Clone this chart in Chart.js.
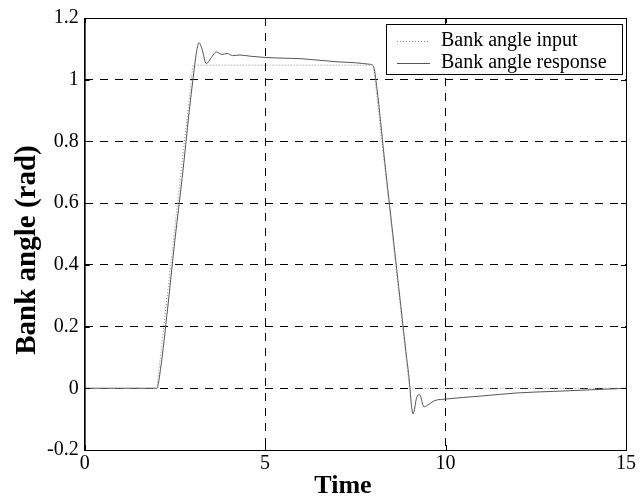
<!DOCTYPE html>
<html>
<head>
<meta charset="utf-8">
<script src="https://cdn.jsdelivr.net/npm/chart.js@4/dist/chart.umd.min.js"></script>
<style>
  body { margin: 0; background: #fff; }
  #wrap { width: 640px; height: 500px; }
</style>
</head>
<body>
<div id="wrap"><canvas id="grafico" width="640" height="500"></canvas></div>
<script>
// consigna de alabeo (rampa 2-3 s, mantiene, rampa 8-9 s)
const tInput = [0, 2, 3, 8, 9, 15];
const bankInput = [0, 0, 1.047, 1.047, 0, 0];

// respuesta del avion
const tResp = [0, 2.0, 2.1, 2.3, 2.5, 2.7, 2.9, 3.0, 3.1, 3.17, 3.25, 3.37, 3.5, 3.65, 3.8, 3.95, 4.1, 4.3, 4.6, 5, 5.5, 6, 6.5, 7, 7.5, 7.9,
  8.0, 8.1, 8.3, 8.5, 8.7, 8.9, 9.0, 9.05, 9.1, 9.2, 9.28, 9.4, 9.5, 9.7, 10, 11, 12, 13, 14, 15];
const bankResp = [0, 0, 0.06, 0.26, 0.48, 0.68, 0.9, 1.0, 1.09, 1.12, 1.10, 1.052, 1.07, 1.09, 1.082, 1.085, 1.078, 1.08, 1.076, 1.072, 1.07, 1.068, 1.063, 1.058, 1.055, 1.05,
  1.045, 0.97, 0.75, 0.54, 0.33, 0.12, 0.02, -0.05, -0.083, -0.03, -0.02, -0.06, -0.055, -0.04, -0.035, -0.025, -0.015, -0.01, -0.005, 0];

const xTicks = [0, 5, 10, 15];
const yTicks = [-0.2, 0, 0.2, 0.4, 0.6, 0.8, 1, 1.2];
const xTitulo = "Time";
const yTitulo = "Bank angle (rad)";

const fuente = "'Liberation Serif', 'Times New Roman', serif";

function pares(xs, ys) {
  return xs.map((x, i) => ({ x: x, y: ys[i] }));
}

// caja del grafico, marcas hacia dentro, titulos de ejes y leyenda con marco, como en matlab
const cajaYLeyenda = {
  id: "cajaYLeyenda",
  afterDraw(chart) {
    const ctx = chart.ctx;
    const a = chart.chartArea;
    const sx = chart.scales.x, sy = chart.scales.y;
    ctx.save();
    ctx.strokeStyle = "#000";
    ctx.lineWidth = 1;
    ctx.strokeRect(a.left + 0.5, a.top + 0.5, a.right - a.left, a.bottom - a.top);

    // marcas
    ctx.beginPath();
    xTicks.forEach(v => {
      const px = Math.round(sx.getPixelForValue(v)) + 0.5;
      ctx.moveTo(px, a.bottom); ctx.lineTo(px, a.bottom - 5);
      ctx.moveTo(px, a.top); ctx.lineTo(px, a.top + 5);
    });
    yTicks.forEach(v => {
      const py = Math.round(sy.getPixelForValue(v)) + 0.5;
      ctx.moveTo(a.left, py); ctx.lineTo(a.left + 5, py);
      ctx.moveTo(a.right, py); ctx.lineTo(a.right - 5, py);
    });
    ctx.stroke();

    // titulos de los ejes
    ctx.fillStyle = "#000";
    ctx.textAlign = "center";
    ctx.textBaseline = "alphabetic";
    ctx.font = "bold 26px " + fuente;
    ctx.fillText(xTitulo, 343, 493);
    ctx.save();
    ctx.translate(35, 250);
    ctx.rotate(-Math.PI / 2);
    ctx.font = "bold 29px " + fuente;
    ctx.fillText(yTitulo, 0, 0);
    ctx.restore();

    // leyenda
    const lx = 386, ly = 24, lw = 236, lh = 50;
    ctx.textAlign = "left";
    ctx.fillStyle = "#fff";
    ctx.fillRect(lx, ly, lw, lh);
    ctx.strokeRect(lx + 0.5, ly + 0.5, lw, lh);
    ctx.font = "20px " + fuente;
    ctx.textBaseline = "middle";
    chart.data.datasets.forEach((ds, i) => {
      const yy = ly + 17 + i * 22;
      ctx.strokeStyle = ds.borderColor;
      ctx.setLineDash(ds.borderDash || []);
      ctx.beginPath();
      ctx.moveTo(lx + 11, yy + 0.5);
      ctx.lineTo(lx + 44, yy + 0.5);
      ctx.stroke();
      ctx.setLineDash([]);
      ctx.fillStyle = "#000";
      ctx.fillText(ds.label, lx + 55, yy);
    });
    ctx.restore();
  }
};

let chart = new Chart(document.getElementById("grafico"), {
  type: "line",
  data: {
    datasets: [
      {
        label: "Bank angle input",
        data: pares(tInput, bankInput),
        borderColor: "#8a8a8a",
        borderWidth: 1,
        borderDash: [1, 2],
        pointRadius: 0,
        tension: 0
      },
      {
        label: "Bank angle response",
        data: pares(tResp, bankResp),
        borderColor: "#555",
        borderWidth: 1,
        pointRadius: 0,
        cubicInterpolationMode: "monotone"
      }
    ]
  },
  options: {
    responsive: false,
    animation: false,
    layout: { padding: { top: 16, right: 7, left: 41, bottom: 22 } },
    plugins: { legend: { display: false }, tooltip: { enabled: false } },
    scales: {
      x: {
        type: "linear",
        min: 0, max: 15,
        afterBuildTicks: s => { s.ticks = xTicks.map(v => ({ value: v })); },
        ticks: { color: "#000", font: { family: fuente, size: 20, lineHeight: 1 }, padding: 4, maxRotation: 0 },
        grid: { color: "#000", drawTicks: false },
        border: { dash: [8, 7], color: "#000" }
      },
      y: {
        min: -0.2, max: 1.2,
        afterBuildTicks: s => { s.ticks = yTicks.map(v => ({ value: v })); },
        ticks: {
          color: "#000", font: { family: fuente, size: 20 }, padding: 6,
          callback: v => String(Math.round(v * 10) / 10)
        },
        grid: { color: "#000", drawTicks: false },
        border: { dash: [8, 7], color: "#000" }
      }
    }
  },
  plugins: [cajaYLeyenda]
});
</script>
</body>
</html>
